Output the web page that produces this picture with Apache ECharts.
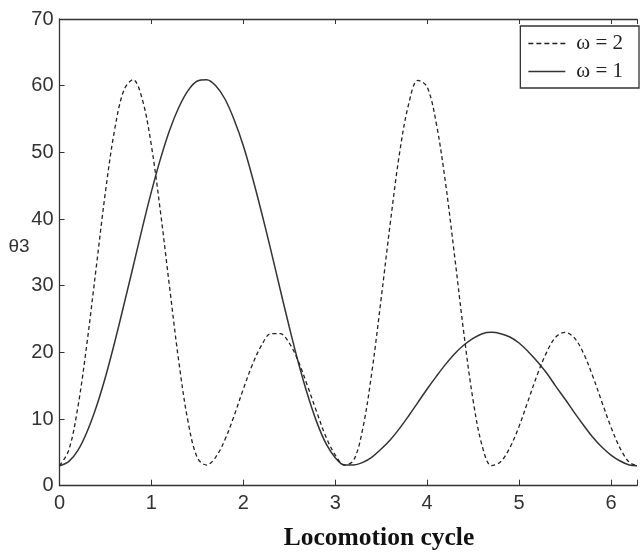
<!DOCTYPE html>
<html>
<head>
<meta charset="utf-8">
<script src="https://cdn.jsdelivr.net/npm/echarts@6/dist/echarts.min.js"></script>
<style>
  html, body { margin: 0; padding: 0; background: #fff; }
  #chart { width: 640px; height: 553px; }
</style>
</head>
<body>
<div id="chart"></div>
<script>
// Joint angle θ3 over one locomotion cycle (0 … 2π) for two gait frequencies.
const cycle = [
  0.0, 0.1, 0.2, 0.3, 0.4, 0.5, 0.6, 0.7, 0.8, 0.9,
  1.0, 1.1, 1.2, 1.3, 1.4, 1.5, 1.6, 1.7, 1.8, 1.9,
  2.0, 2.1, 2.2, 2.3, 2.4, 2.5, 2.6, 2.7, 2.8, 2.9,
  3.0, 3.1, 3.2, 3.3, 3.4, 3.5, 3.6, 3.7, 3.8, 3.9,
  4.0, 4.1, 4.2, 4.3, 4.4, 4.5, 4.6, 4.7, 4.8, 4.9,
  5.0, 5.1, 5.2, 5.3, 5.4, 5.5, 5.6, 5.7, 5.8, 5.9,
  6.0, 6.1, 6.2, 6.2832
];

// ω = 2 (dashed)
const theta3Omega2 = [
  3.0, 5.3, 11.8, 21.5, 32.8, 44.1, 53.4, 59.3, 60.9, 58.0,
  51.0, 40.9, 29.5, 18.4, 9.5, 4.2, 3.1, 4.3, 6.9, 10.5,
  14.5, 18.2, 21.1, 22.8, 22.8, 21.4, 18.6, 14.9, 11.0, 7.3,
  4.6, 3.1, 3.8, 8.6, 17.2, 28.1, 39.5, 49.9, 57.3, 60.8,
  59.8, 54.3, 45.4, 34.3, 22.8, 12.8, 5.9, 3.0, 3.6, 5.7,
  8.9, 12.8, 16.7, 20.0, 22.3, 23.0, 22.2, 19.9, 16.5, 12.6,
  8.8, 5.6, 3.5, 3.0
];

// ω = 1 (solid)
const theta3Omega1 = [
  3.0, 3.6, 5.3, 8.1, 11.8, 16.3, 21.5, 27.1, 32.8, 38.6,
  44.1, 49.1, 53.4, 56.8, 59.3, 60.7, 60.9, 60.0, 58.0, 54.9,
  51.0, 46.2, 40.9, 35.3, 29.5, 23.8, 18.4, 13.6, 9.5, 6.3,
  4.2, 3.1, 3.1, 3.5, 4.3, 5.5, 6.9, 8.6, 10.5, 12.5,
  14.5, 16.4, 18.2, 19.8, 21.1, 22.1, 22.8, 23.0, 22.8, 22.3,
  21.4, 20.1, 18.6, 16.9, 14.9, 13.0, 11.0, 9.1, 7.3, 5.8,
  4.6, 3.7, 3.1, 3.0
];

const seriesNames = ['ω = 2', 'ω = 1'];
const xLabel = 'Locomotion cycle';
const yLabel = 'θ3';

const pairs = (xs, ys) => xs.map((x, i) => [x, ys[i]]);

const axisColor = '#333';
const labelFont = 'Liberation Sans';

// Legend keys: a dashed stroke and a plain stroke, built as thin filled bars.
const dashedKey = 'path://M0,0h5v1.4h-5zM8,0h5v1.4h-5zM16,0h5v1.4h-5zM24,0h5v1.4h-5zM32,0h5v1.4h-5z';
const solidKey = 'path://M0,0h37v1.4h-37z';

const chart = echarts.init(document.getElementById('chart'), null, { renderer: 'canvas' });

chart.setOption({
  animation: false,
  backgroundColor: '#fff',
  grid: { left: 59.5, right: -7.6, top: 19, bottom: 67.3, containLabel: false },
  xAxis: [
    {
      type: 'value', position: 'bottom', min: 0, max: 6.2832, interval: 1,
      axisLine: { show: true, onZero: false, lineStyle: { color: axisColor, width: 1.3 } },
      axisTick: { show: true, inside: true, length: 6, lineStyle: { color: axisColor } },
      axisLabel: {
        margin: 8, fontSize: 20, fontFamily: labelFont, color: '#333',
        formatter: v => (Number.isInteger(v) ? String(v) : '')
      },
      splitLine: { show: false }
    },
    {
      type: 'value', position: 'top', min: 0, max: 6.2832, interval: 1,
      axisLine: { show: true, onZero: false, lineStyle: { color: axisColor, width: 1.3 } },
      axisTick: { show: true, inside: true, length: 5, lineStyle: { color: axisColor } },
      axisLabel: { show: false },
      splitLine: { show: false }
    }
  ],
  yAxis: [
    {
      type: 'value', position: 'left', min: 0, max: 70, interval: 10,
      axisLine: { show: true, onZero: false, lineStyle: { color: axisColor, width: 1.3 } },
      axisTick: { show: true, inside: true, length: 5, lineStyle: { color: axisColor } },
      axisLabel: { margin: 6, fontSize: 20, fontFamily: labelFont, color: '#333' },
      splitLine: { show: false }
    }
  ],
  legend: {
    data: [
      { name: seriesNames[0], icon: dashedKey },
      { name: seriesNames[1], icon: solidKey }
    ],
    orient: 'vertical',
    right: 1,
    top: 26,
    padding: [7, 16, 6, 8],
    itemWidth: 37,
    itemHeight: 1.4,
    itemGap: 7,
    backgroundColor: '#fff',
    borderColor: '#333',
    borderWidth: 1.3,
    textStyle: {
      fontFamily: 'Liberation Serif', fontSize: 21, color: '#222',
      padding: [0, 0, 0, 6]
    }
  },
  graphic: [
    {
      type: 'text', x: 19, y: 247,
      style: {
        text: yLabel, fontFamily: labelFont, fontSize: 19, fill: '#333',
        align: 'center', verticalAlign: 'middle'
      }
    },
    {
      type: 'text', x: 379, y: 538,
      style: {
        text: xLabel, fontFamily: 'Liberation Serif', fontWeight: 'bold',
        fontSize: 25.5, fill: '#111', align: 'center', verticalAlign: 'middle'
      }
    }
  ],
  series: [
    {
      name: seriesNames[0], type: 'line', xAxisIndex: 0, yAxisIndex: 0,
      data: pairs(cycle, theta3Omega2),
      smooth: 0.35, symbol: 'none', showSymbol: false,
      lineStyle: { color: '#222', width: 1.3, type: [4, 3] },
      itemStyle: { color: '#222' },
      z: 3
    },
    {
      name: seriesNames[1], type: 'line', xAxisIndex: 0, yAxisIndex: 0,
      data: pairs(cycle, theta3Omega1),
      smooth: 0.35, symbol: 'none', showSymbol: false,
      lineStyle: { color: '#333', width: 1.5, type: 'solid' },
      itemStyle: { color: '#333' },
      z: 2
    }
  ]
});
</script>
</body>
</html>
